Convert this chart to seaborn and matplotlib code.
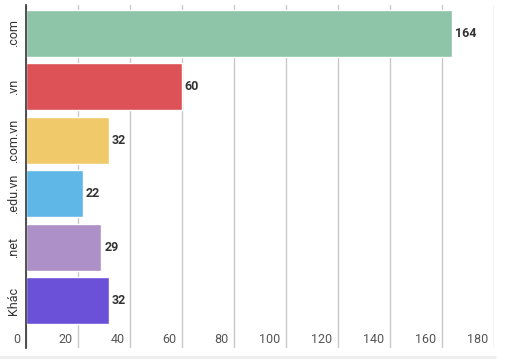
import matplotlib
matplotlib.use("Agg")
import matplotlib.pyplot as plt
import matplotlib.transforms as mtransforms
from matplotlib.lines import Line2D
import seaborn as sns
import pandas as pd

# data
domains = [".com", ".vn", ".com.vn", ".edu.vn", ".net", "Khác"]
counts = [164, 60, 32, 22, 29, 32]
bar_colors = ["#8EC4A8", "#DC5256", "#F0C96A", "#5EB7E7", "#AD90C8", "#6B50D8"]
x_ticks = [0, 20, 40, 60, 80, 100, 120, 140, 160, 180]

sns.set_theme(style="white")
plt.rcParams["font.family"] = ["Roboto", "DejaVu Sans"]

df = pd.DataFrame({"domain": domains, "count": counts})

fig = plt.figure(figsize=(5.1, 3.6), dpi=100)
ax = fig.add_axes([26 / 510, 12 / 360, 468 / 510, 343 / 360])

sns.barplot(data=df, x="count", y="domain", hue="domain", palette=bar_colors,
            legend=False, width=0.88, saturation=1, ax=ax, zorder=3)

ax.set_xlim(0, 180)
ax.set_ylim(5.88, -0.53)
ax.set_xticks(x_ticks)
ax.grid(True, axis="x", color="#c8c8c8", linewidth=1, zorder=0)
ax.grid(False, axis="y")
for s in ["top", "right", "bottom"]:
    ax.spines[s].set_visible(False)
ax.spines["left"].set_color("#333333")
ax.spines["left"].set_linewidth(1.2)
ax.spines["left"].set_zorder(4)
ax.set_xlabel("")
ax.set_ylabel("")

# y labels rotated
ax.tick_params(axis="y", length=0, pad=4, labelsize=9, labelcolor="#333333")
for lab in ax.get_yticklabels():
    lab.set_rotation(90)
    lab.set_va("center")

# x tick labels drawn inside the plot, left of each gridline
ax.tick_params(axis="x", length=0, labelbottom=False)
off = mtransforms.ScaledTranslation(-4 / 72, 0, fig.dpi_scale_trans)
for t in x_ticks:
    ax.text(t, 0.025, str(t), transform=mtransforms.blended_transform_factory(ax.transData, ax.transAxes) + off,
            ha="right", va="center", fontsize=9, color="#555555")

# value labels
for i, v in enumerate(counts):
    ax.annotate(str(v), (v, i), xytext=(2, 0), textcoords="offset points",
                ha="left", va="center", fontsize=9, fontweight="semibold", color="#333333")

# light rule below the chart
fig.add_artist(Line2D([0, 495 / 510], [3 / 360, 3 / 360], color="#eeeeee", linewidth=2))

fig.savefig("out.png", dpi=100)
